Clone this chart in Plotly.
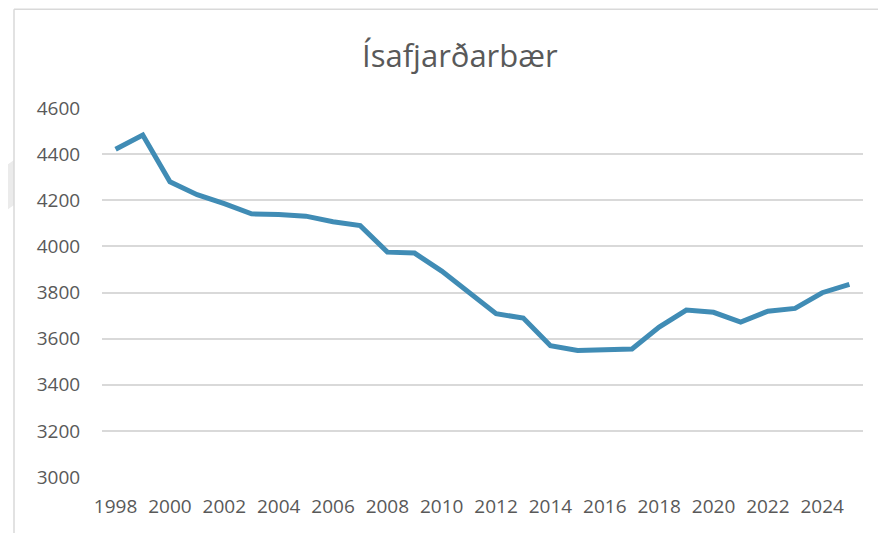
import plotly.graph_objects as go

years = list(range(1998, 2026))
population = [4421, 4483, 4280, 4224, 4185, 4141, 4138, 4131, 4107, 4090,
              3975, 3971, 3893, 3798, 3708, 3689, 3569, 3549, 3551, 3555,
              3650, 3724, 3714, 3672, 3719, 3731, 3799, 3835]
title_text = "Ísafjarðarbær"
y_ticks = list(range(3000, 4601, 200))
x_ticks = list(range(1998, 2025, 2))

# page has an 8px body margin: figure drawn at page offset (8, 8)
OFF = 8
W, H = 886 - OFF, 533 - OFF
L, R, T, B = 102 - OFF, 23, 108 - OFF, 56
PW, PH = W - L - R, H - T - B

def px(x):
    return (x - OFF - L) / PW

def py(y):
    return (H - B - (y - OFF)) / PH

fig = go.Figure()
fig.add_trace(go.Scatter(
    x=years, y=population, mode="lines",
    line=dict(color="#408CB5", width=5),
    hoverinfo="x+y", showlegend=False,
))

grey = "#D9D9D9"
shapes = []
wm = "#EBEBEB"
for path in [
    f"M {px(0)},{py(170)} L {px(14)},{py(160)} L {px(14)},{py(205)} L {px(0)},{py(215)} Z",
]:
    shapes.append(dict(type="path", path=path, xref="paper", yref="paper",
                       fillcolor=wm, line=dict(width=0), layer="below"))
shapes.append(dict(type="line", xref="paper", yref="paper",
                   x0=px(14), x1=px(886), y0=py(9.3), y1=py(9.3),
                   line=dict(color=grey, width=1.5)))
shapes.append(dict(type="line", xref="paper", yref="paper",
                   x0=px(14), x1=px(14), y0=py(9.3), y1=py(533),
                   line=dict(color=grey, width=1.5)))

fig.update_layout(
    width=W, height=H,
    margin=dict(l=L, r=R, t=T, b=B),
    paper_bgcolor="white", plot_bgcolor="white",
    font=dict(family="Open Sans", color="#595959", size=19),
    shapes=shapes,
    annotations=[dict(
        text=title_text, x=px(460), y=py(55), xref="paper", yref="paper",
        xanchor="center", yanchor="middle", showarrow=False,
        font=dict(family="Open Sans", size=31, color="#595959"),
    )],
    xaxis=dict(
        range=[1997.5, 2025.5], tickvals=x_ticks,
        ticktext=[str(v) for v in x_ticks],
        showgrid=False, zeroline=False, showline=False,
        ticks="outside", ticklen=12, tickcolor="rgba(0,0,0,0)",
        tickfont=dict(size=19, color="#595959"),
        fixedrange=True,
    ),
    yaxis=dict(
        range=[3000, 4600], tickvals=y_ticks,
        ticktext=[str(v) for v in y_ticks],
        showgrid=True, gridcolor=grey, gridwidth=1.5,
        zeroline=False, showline=False,
        ticks="outside", ticklen=17, tickcolor="rgba(0,0,0,0)",
        tickfont=dict(size=19, color="#595959"),
        fixedrange=True,
    ),
)

fig.write_html("out.html")
